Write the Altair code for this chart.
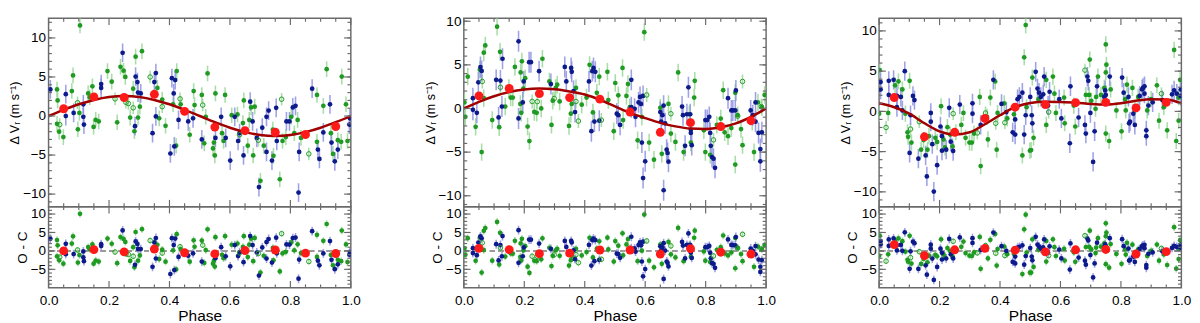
import altair as alt
import pandas as pd

# ---------------------------------------------------------------- data
x_tick_labels = [0.0, 0.2, 0.4, 0.6, 0.8, 1.0]
x_minor_ticks = [0.05, 0.1, 0.15, 0.25, 0.3, 0.35, 0.45, 0.5, 0.55, 0.65, 0.7, 0.75, 0.85, 0.9, 0.95]
rv_tick_labels = [-10, -5, 0, 5, 10]
oc_tick_labels = [-5, 0, 5, 10]
err_size = {"b": 1.2, "g": 1.0, "o": 0.8}

bin_phase = [0.05, 0.15, 0.25, 0.35, 0.45, 0.55, 0.65, 0.75, 0.85, 0.95]
curve_phase = [0.0, 0.05, 0.1, 0.15, 0.2, 0.25, 0.3, 0.35, 0.4, 0.45, 0.5,
               0.55, 0.6, 0.65, 0.7, 0.75, 0.8, 0.85, 0.9, 0.95, 1.0]

# ---- panel 1
p1_phase = [0.006, 0.028, 0.030, 0.028, 0.037, 0.035, 0.049, 0.057, 0.057, 0.081,
            0.083, 0.077, 0.096, 0.097, 0.102, 0.104, 0.115, 0.117, 0.115, 0.131,
            0.136, 0.145, 0.149, 0.156, 0.174, 0.174, 0.166, 0.195, 0.209, 0.220,
            0.227, 0.245, 0.238, 0.248, 0.254, 0.256, 0.264, 0.270, 0.280, 0.280,
            0.284, 0.286, 0.288, 0.288, 0.294, 0.309, 0.296, 0.296, 0.305, 0.302,
            0.336, 0.344, 0.350, 0.355, 0.355, 0.360, 0.366, 0.376, 0.376, 0.387,
            0.403, 0.408, 0.414, 0.419, 0.416, 0.422, 0.424, 0.435, 0.412, 0.430,
            0.437, 0.462, 0.467, 0.478, 0.480, 0.483, 0.510, 0.507, 0.507, 0.515,
            0.520, 0.526, 0.552, 0.552, 0.547, 0.550, 0.544, 0.574, 0.579, 0.586,
            0.584, 0.601, 0.606, 0.625, 0.616, 0.627, 0.632, 0.643, 0.632, 0.645,
            0.646, 0.659, 0.664, 0.670, 0.675, 0.677, 0.694, 0.696, 0.701, 0.689,
            0.682, 0.707, 0.712, 0.721, 0.721, 0.728, 0.739, 0.742, 0.771, 0.765,
            0.774, 0.744, 0.755, 0.787, 0.785, 0.797, 0.803, 0.808, 0.817, 0.813,
            0.824, 0.827, 0.829, 0.835, 0.861, 0.872, 0.888, 0.891, 0.888, 0.896,
            0.909, 0.909, 0.920, 0.931, 0.934, 0.947, 0.941, 0.936, 0.957, 0.957,
            0.970, 0.968, 0.984, 0.995, 0.989, 0.997, 0.571, 0.667, 0.753]
p1_rv = [3.4, 3.4, 2.0, -1.0, -1.1, -2.0, -2.7, 2.8, 0.0, 5.2,
         0.4, 3.2, 1.7, -1.7, 0.4, 11.6, -0.1, -1.1, 1.5, 2.9,
         2.4, 3.8, -1.4, -0.5, 4.1, 3.6, -0.7, 5.75, 4.4, 2.2,
         -0.8, 8.1, 6.3, 5.8, 5.0, 1.75, 1.6, -0.2, 3.5, 1.05,
         -1.95, -1.3, 5.05, 7.6, 4.35, 8.3, -0.2, 3.0, 2.9, 1.2,
         5.0, -2.2, 4.35, 5.5, -0.05, 3.6, -0.3, 1.2, 2.1, -1.25,
         -4.8, 4.85, 2.9, 4.6, -3.9, -3.8, 5.75, 2.2, 1.5, -0.5,
         1.5, -0.7, -2.4, -0.3, 3.2, 1.4, 1.4, 2.7, -3.0, -3.5,
         -0.1, 5.45, 2.9, -2.8, -3.4, -5.05, -4.15, -2.2, -3.2, -2.8,
         2.7, -5.7, 0.1, 0.2, -0.1, -3.2, -2.2, -0.9, -2.4, -5.05,
         2.0, -3.8, -0.5, 1.1, -0.7, -5.05, -3.1, -9.1, -8.3, -2.8,
         1.2, -1.5, -3.8, -4.6, -0.1, 0.7, -5.7, -1.75, 2.15, -8.1,
         -3.2, -5.1, -3.2, -0.7, -2.7, -0.7, -0.1, 1.1, 1.3, -2.2,
         -0.5, -9.8, -4.6, -2.8, -4.85, 3.5, 2.7, -4.3, -3.3, -5.5,
         1.3, -2.1, 6.0, 1.5, -2.2, -5.8, -4.85, -3.4, -4.3, -3.1,
         5.05, -3.3, 1.5, -1.1, -3.2, -0.3, -0.1, 1.83, 1.05]
p1_oc = [3.3, 2.96, 1.53, -1.47, -1.68, -2.55, -3.47, 1.92, -0.88, 3.96,
         -0.87, 2.0, 0.26, -3.15, -1.12, 10.06, -1.75, -2.78, -0.15, 1.04,
         0.48, 1.79, -3.45, -2.6, 1.84, 1.34, -2.9, 3.34, 1.94, -0.3,
         -3.33, 5.55, 3.75, 3.25, 2.45, -0.8, -0.95, -2.72, 1.0, -1.45,
         -4.43, -3.78, 2.58, 5.13, 1.9, 5.9, -2.65, 0.55, 0.49, -1.23,
         2.82, -4.31, 2.29, 3.49, -2.06, 1.64, -2.2, -0.58, 0.32, -2.91,
         -6.26, 3.46, 1.57, 3.34, -5.2, -5.02, 4.55, 1.14, 0.15, -1.63,
         0.5, -1.3, -2.93, -0.65, 2.88, 1.13, 1.56, 2.81, -2.89, -3.26,
         0.22, 5.87, 3.72, -1.98, -2.65, -4.26, -3.45, -1.06, -1.99, -1.48,
         3.99, -4.19, 1.67, 2.0, 1.58, -1.39, -0.33, 1.09, -0.53, -3.05,
         4.0, -1.67, 1.68, 3.33, 1.57, -2.77, -0.7, -6.69, -5.87, -0.43,
         3.52, 0.95, -1.33, -2.09, 2.41, 3.23, -3.15, 0.8, 4.68, -5.56,
         -0.68, -2.55, -0.65, 1.77, -0.23, 1.73, 2.31, 3.48, 3.63, 0.16,
         1.78, -7.54, -2.36, -0.6, -2.88, 5.36, 4.38, -2.65, -1.62, -3.92,
         2.73, -0.67, 7.3, 2.66, -1.08, -4.97, -3.91, -2.4, -3.62, -2.42,
         5.53, -2.79, 1.76, -1.02, -3.02, -0.25, 1.0, 4.03, 3.6]
p1_inst = ("b g g g o g g b b g  b g o g g g b b b g  g g g g b b g g g o  "
           "g b g g g o o g g o  g b b g b g g b b g  o b b b b g g o g g  "
           "b b b b b g g o g b  g b g b g g o g b g  g g g b g g g g g b  "
           "g b g g b b b g o b  g g g g b g o b g b  g b g b b b b g o g  "
           "g g b b g b g b b g  g b b g o b g b g b  g b g b g b g b b g  "
           "g g g b g b  b b b").split()
p1_bin_rv = [0.93, 2.45, 2.37, 2.78, 0.6, -1.42, -1.88, -2.08, -2.37, -1.34]
p1_bin_oc = [0.0, 0.35, -0.25, 0.5, -0.5, -0.8, 0.1, 0.25, -0.6, -0.7]
p1_curve = [0.0, 0.79, 1.5, 2.06, 2.43, 2.55, 2.43, 2.06, 1.5, 0.79, 0.0,
            -0.79, -1.5, -2.06, -2.43, -2.55, -2.43, -2.06, -1.5, -0.79, 0.0]

# ---- panel 2
p2_phase = [0.002, 0.005, 0.013, 0.030, 0.030, 0.043, 0.048, 0.039, 0.053, 0.055,
            0.059, 0.061, 0.059, 0.066, 0.071, 0.066, 0.094, 0.107, 0.110, 0.115,
            0.117, 0.121, 0.121, 0.120, 0.128, 0.126, 0.137, 0.149, 0.155, 0.162,
            0.169, 0.181, 0.181, 0.188, 0.192, 0.187, 0.190, 0.195, 0.198, 0.203,
            0.197, 0.211, 0.216, 0.222, 0.217, 0.226, 0.243, 0.233, 0.241, 0.249,
            0.260, 0.256, 0.283, 0.288, 0.290, 0.299, 0.294, 0.304, 0.309, 0.334,
            0.339, 0.317, 0.348, 0.355, 0.357, 0.354, 0.357, 0.368, 0.363, 0.371,
            0.371, 0.379, 0.390, 0.406, 0.416, 0.414, 0.425, 0.429, 0.435, 0.422,
            0.432, 0.427, 0.440, 0.448, 0.448, 0.455, 0.475, 0.478, 0.496, 0.501,
            0.506, 0.511, 0.511, 0.517, 0.525, 0.527, 0.538, 0.543, 0.554, 0.554,
            0.549, 0.565, 0.568, 0.578, 0.583, 0.586, 0.589, 0.589, 0.593, 0.605,
            0.575, 0.597, 0.600, 0.593, 0.613, 0.629, 0.650, 0.650, 0.653, 0.657,
            0.661, 0.661, 0.655, 0.666, 0.685, 0.671, 0.674, 0.677, 0.677, 0.685,
            0.700, 0.709, 0.722, 0.725, 0.727, 0.732, 0.738, 0.743, 0.746, 0.749,
            0.751, 0.751, 0.754, 0.762, 0.764, 0.751, 0.794, 0.799, 0.805, 0.799,
            0.812, 0.815, 0.815, 0.817, 0.821, 0.826, 0.826, 0.831, 0.837, 0.850,
            0.858, 0.863, 0.874, 0.874, 0.885, 0.885, 0.890, 0.898, 0.900, 0.898,
            0.898, 0.906, 0.906, 0.917, 0.922, 0.922, 0.949, 0.954, 0.956, 0.965,
            0.965, 0.975, 0.981, 0.981, 0.973, 0.986, 0.986, 0.995, 0.984, 0.960]
p2_rv = [0.70, -0.96, 3.65, 1.18, -0.15, -0.5, 3.0, -2.1, 4.45, 4.75,
         4.3, 3.1, -5.0, 6.4, 7.23, 1.18, -1.33, 3.28, 9.37, -1.03,
         -2.14, 3.2, 2.43, 6.5, 5.7, 0.22, 0.22, 2.36, 1.25, 1.25,
         4.76, 7.7, -1.14, 4.13, 5.4, 0.52, -0.5, 0.7, 3.1, 3.47,
         2.29, -2.07, 5.3, 5.3, -3.73, 0.81, 0.78, -0.4, -0.5, 4.28,
         5.7, 0.0, 3.1, 2.8, -1.88, 1.14, 0.89, 2.36, 2.73, 4.76,
         3.1, 0.81, -2.0, 4.65, 4.2, -0.6, 0.52, -0.41, 2.0, 2.36,
         0.8, -1.44, 0.44, 1.25, 5.0, 3.1, 4.28, 4.65, 4.2, -2.6,
         -1.5, -0.45, 1.8, 3.65, -1.4, -1.33, 4.2, 0.96, -2.6, 2.92,
         -0.59, 1.51, -0.77, -1.88, 4.65, -1.33, 1.44, 2.8, 3.28, 0.15,
         0.15, -0.04, -0.96, 0.7, 1.33, 0.52, -0.96, -3.9, 1.44, 1.55,
         -3.65, 8.75, -6.05, -7.97, -3.9, -5.87, -0.41, 0.08, -1.51, -0.77,
         0.33, -9.37, -5.2, -1.7, -0.6, -4.72, -5.1, -6.1, 0.52, -2.88,
         -3.83, 4.13, 0.22, -0.77, -5.0, -4.28, -0.66, 2.43, -0.66, -0.66,
         -2.44, -2.8, -4.2, 1.25, 3.17, -3.9, -2.5, -1.33, -1.33, -5.0,
         -0.96, -5.3, -2.8, -4.28, -5.57, -5.75, -3.6, -6.8, -1.88, -1.15,
         2.1, -2.73, -3.17, 1.18, -2.25, -0.22, -0.22, -0.22, 2.07, 1.8,
         -6.42, -0.77, -0.88, -2.36, 3.1, -4.2, -0.22, -1.51, -0.77, 0.7,
         -1.51, -2.8, -4.65, -6.05, 0.7, 0.15, -2.73, 1.55, 0.22, -5.0]
p2_oc = [0.67, -1.03, 3.45, 0.73, -0.6, -1.15, 2.28, -2.68, 3.66, 3.93,
         3.43, 2.2, -5.87, 5.44, 6.21, 0.22, -2.66, 1.81, 7.87, -2.58,
         -3.71, 1.59, 0.82, 4.9, 4.03, -1.45, -1.54, 0.49, -0.66, -0.71,
         2.75, 5.62, -3.22, 2.02, 3.27, -1.59, -2.62, -1.45, 0.93, 1.28,
         0.12, -4.28, 3.07, 3.05, -5.96, -1.45, -1.5, -2.67, -2.78, 1.99,
         3.42, -2.29, 0.86, 0.57, -4.1, -1.06, -1.32, 0.18, 0.57, 2.72,
         1.09, -1.32, -3.96, 2.73, 2.3, -2.52, -1.38, -2.23, 0.14, 0.56,
         -1.0, -3.19, -1.23, -0.3, 3.55, 1.63, 2.93, 3.34, 2.95, -3.98,
         -2.78, -1.78, 0.62, 2.6, -2.45, -2.28, 3.6, 0.41, -2.9, 2.68,
         -0.75, 1.43, -0.85, -1.88, 4.77, -1.18, 1.77, 3.2, 3.84, 0.71,
         0.64, 0.68, -0.2, 1.6, 2.29, 1.52, 0.07, -2.87, 2.51, 2.7,
         -2.79, 9.85, -4.93, -6.9, -2.66, -4.45, 1.24, 1.73, 0.17, 0.95,
         2.09, -7.61, -3.5, 0.1, 1.35, -2.87, -3.22, -4.2, 2.42, -0.93,
         -1.78, 6.23, 2.42, 1.45, -2.77, -2.03, 1.62, 4.73, 1.64, 1.64,
         -0.14, -0.5, -1.9, 3.57, 5.49, -1.6, -0.15, 1.02, 1.01, -2.65,
         1.34, -3.01, -0.51, -2.0, -3.31, -3.51, -1.36, -4.6, 0.29, 1.0,
         4.18, -0.69, -1.23, 3.12, -0.41, 1.62, 1.57, 1.5, 3.77, 3.52,
         -4.7, 0.85, 0.74, -0.86, 4.5, -2.8, 0.65, -0.71, -0.01, 1.3,
         -0.91, -2.35, -4.3, -5.7, 1.18, 0.4, -2.48, 1.63, 0.5, -4.3]
p2_inst = ("g g g b b b b g g b  b o g g g g g b g b  g b o g b b g g g g  "
           "g b b g g g g b b g  g g b b g o o g g b  g g g b g o g g g b  "
           "b g g b b g g b b g  o o g g g b b b b b  b g g g b o g g g g  "
           "b g b b g g g g b b  g b b b b b g b b o  g g b b g g b g b b  "
           "b b g b o b b b g g  g g b b g b b b g b  b b b g g g g b b g  "
           "b g b b b b o b g g  g g g b g b b b b g  g g o g o g b g b b  "
           "b b b b g g b g o g").split()
p2_bin_rv = [1.44, 2.29, 1.7, 1.25, 1.07, -0.4, -2.73, -1.62, -2.07, -1.4]
p2_bin_oc = [0.7, 0.35, -0.75, -0.6, 0.25, 0.25, -0.85, 0.6, -0.35, -0.85]
p2_curve = [0.0, 0.75, 1.4, 1.88, 2.18, 2.29, 2.2, 1.95, 1.6, 1.0, 0.25,
            -0.5, -1.1, -1.65, -2.05, -2.3, -2.35, -2.15, -1.7, -0.95, 0.0]

# ---- panel 3
p3_phase = [0.002, 0.005, 0.005, 0.000, 0.023, 0.030, 0.032, 0.032, 0.048, 0.053,
            0.059, 0.059, 0.064, 0.072, 0.077, 0.077, 0.085, 0.087, 0.094, 0.096,
            0.104, 0.101, 0.104, 0.112, 0.117, 0.107, 0.101, 0.133, 0.139, 0.130,
            0.147, 0.154, 0.158, 0.160, 0.165, 0.171, 0.176, 0.171, 0.186, 0.192,
            0.192, 0.181, 0.203, 0.208, 0.205, 0.213, 0.208, 0.218, 0.222, 0.226,
            0.232, 0.235, 0.237, 0.243, 0.245, 0.245, 0.254, 0.267, 0.272, 0.279,
            0.286, 0.299, 0.307, 0.309, 0.309, 0.314, 0.325, 0.333, 0.336, 0.336,
            0.352, 0.357, 0.360, 0.368, 0.378, 0.384, 0.386, 0.389, 0.392, 0.405,
            0.414, 0.416, 0.421, 0.424, 0.442, 0.450, 0.450, 0.446, 0.458, 0.464,
            0.474, 0.474, 0.480, 0.485, 0.480, 0.485, 0.488, 0.499,
            0.500, 0.505, 0.507, 0.507, 0.511, 0.503, 0.518, 0.524, 0.529, 0.527,
            0.535, 0.543, 0.546, 0.553, 0.553, 0.559, 0.561, 0.564, 0.575, 0.580,
            0.585, 0.596, 0.603, 0.612, 0.614, 0.633, 0.631, 0.644, 0.649, 0.660,
            0.681, 0.684, 0.681, 0.689, 0.684, 0.695, 0.697, 0.692, 0.699, 0.708,
            0.713, 0.702, 0.716, 0.718, 0.721, 0.724, 0.734, 0.745, 0.745, 0.748,
            0.750, 0.752, 0.750, 0.750, 0.750, 0.761, 0.763, 0.766, 0.785, 0.804,
            0.802, 0.809, 0.814, 0.816, 0.820, 0.825, 0.838, 0.827, 0.830, 0.841,
            0.846, 0.846, 0.857, 0.862, 0.870, 0.873, 0.878, 0.878, 0.887, 0.884,
            0.884, 0.891, 0.900, 0.905, 0.919, 0.934, 0.926, 0.937, 0.942, 0.953,
            0.969, 0.976, 0.976, 0.985, 0.983, 0.991, 0.996, 0.998, 0.991, 0.997]
p3_rv = [5.12, 3.64, 2.72, -0.28, -2.0, -0.2, 3.8, 2.04, 3.92, 3.24,
         1.92, 0.52, 3.72, 1.8, 0.12, 2.72, 5.0, -0.28, -2.6, -3.16,
         -2.2, 3.8, -0.48, 1.92, 1.4, -3.88, -5.16, -1.28, -4.76, -5.88,
         -3.56, -5.48, -8.08, -4.76, -3.08, -0.2, -4.08, -1.28, -3.28, -6.68,
         -3.8, -9.96, -1.88, -3.08, 0.64, -3.48, -4.88, -4.48, -4.76, -1.96,
         0.44, -2.88, -3.76, -4.36, -0.28, -4.92, -2.6, 0.84, -1.68, -0.2,
         -3.28, -3.88, -3.88, 1.0, -0.28, -2.76, -2.68, 1.8, -6.8, -1.68,
         -0.2, -0.68, -3.48, 1.72, 3.92, 3.72, -1.48, -4.76, -0.2, 0.92,
         1.0, -1.4, -0.08, -0.88, -2.6, -1.0, -2.88, -0.36, 1.52, 1.8,
         2.32, -5.48, 6.72, 10.72, -2.88, -0.48, 0.52, -4.88,
         1.8, -0.48, 4.2, -1.48, -3.28, -4.8, 4.92, 2.84, 2.32, 1.52,
         1.8, 2.12, 4.32, 3.92, -1.68, 0.72, -0.08, 2.44, 4.32, 2.2,
         -0.2, 1.52, -0.88, 1.72, -1.48, 3.12, -3.96, 0.72, -1.88, -0.76,
         -1.68, -2.76, 5.12, 4.32, 2.04, 2.04, 6.44, 3.8, -0.2, -6.28,
         -2.48, 1.32, 0.32, 1.8, 3.12, 4.32, 2.04, 1.8, 2.92, 2.6,
         4.84, 5.8, 8.32, 2.04, -2.76, -3.68, 4.32, 2.72, 0.12, 4.2,
         -2.48, 2.32, 1.52, 0.12, 3.32, 1.8, 2.92, -1.48, -1.28, -0.28,
         -1.68, 0.12, 1.8, 1.92, 2.72, 2.92, 3.12, 2.2, 0.12, -2.36,
         -3.08, 0.72, 1.52, 1.12, 3.24, 2.2, -1.16, 1.4, 0.52, -2.36,
         2.12, 2.6, 7.64, 2.2, -3.68, -1.16, 3.92, 2.72, 1.72, 1.92]
p3_oc = [4.14, 2.69, 1.77, -1.28, -2.78, -0.91, 3.11, 1.35, 3.37, 2.77,
         1.54, 0.14, 3.42, 1.63, 0.03, 2.63, 5.03, -0.21, -2.42, -2.94,
         -1.82, 4.1, -0.1, 2.49, 2.09, -3.43, -4.86, -0.21, -3.54, -4.88,
         -2.15, -3.92, -6.44, -3.08, -1.3, 1.7, -2.08, 0.62, -1.08, -4.36,
         -1.48, -7.86, 0.62, -0.53, 3.16, -0.88, -2.33, -1.82, -2.06, 0.78,
         3.24, -0.05, -0.91, -1.49, 2.6, -2.05, 0.28, 3.66, 1.1, 2.53,
         -0.6, -1.28, -1.38, 3.45, 2.17, -0.41, -0.53, 3.8, -4.85, 0.27,
         1.45, 0.87, -2.03, 3.02, 4.97, 4.62, -0.63, -3.96, 0.5, 1.29,
         1.18, -1.26, -0.02, -0.88, -2.98, -1.52, -3.4, -0.81, 0.9, 1.1,
         1.52, -6.28, 5.87, 9.82, -3.73, -1.38, -0.43, -5.91,
         0.76, -1.54, 3.14, -2.54, -4.36, -5.86, 3.82, 1.72, 1.18, 0.38,
         0.64, 0.94, 3.12, 2.72, -2.88, -0.48, -1.28, 1.24, 3.13, 1.02,
         -1.38, 0.36, -2.04, 0.58, -2.62, 2.02, -5.06, -0.37, -2.96, -1.81,
         -2.66, -3.74, 4.14, 3.36, 1.06, 1.1, 5.5, 2.84, -1.12, -7.19,
         -3.38, 0.4, -0.57, 0.91, 2.24, 3.44, 1.18, 0.96, 2.08, 1.76,
         4.0, 4.96, 7.48, 1.2, -3.6, -4.54, 3.46, 1.85, -0.83, 3.18,
         -3.5, 1.27, 0.44, -0.98, 2.2, 0.65, 1.68, -2.63, -2.46, -1.54,
         -2.98, -1.18, 0.44, 0.54, 1.3, 1.5, 1.67, 0.75, -1.36, -3.84,
         -4.56, -0.78, 0.0, -0.4, 1.73, 0.7, -2.66, -0.1, -0.97, -3.82,
         0.82, 1.38, 6.42, 1.08, -4.83, -2.22, 2.9, 1.7, 0.66, 0.9]
p3_inst = ("g b b g o g b b b g  b b g b b g b g g g  o g b b b g b o g b  "
           "g b b g g b b b g b  g b b b g g b g b g  b g b g o b g b g g  "
           "g g g b b g o g g b  o g g g b g o g g b  g o b g b b b g b b  "
           "b g g g b b g g  "
           "b b g b g g b b b g  b b b g g b o b g g  g b b g g b b g g b  "
           "b b o b g g g b b b  b g g g b g g b g b  g g g b g g b g g b  "
           "g b g g g b g b b b  b g g b b b b b g b  b b g b g o g b g g  "
           "b b g b g g g b g b").split()
p3_bin_rv = [1.72, -3.16, -2.6, -0.88, 0.52, 0.84, 1.08, 1.12, 0.44, 1.12]
p3_bin_oc = [1.7, -1.3, 0.3, 0.7, 0.2, -0.25, 0.3, 0.4, -0.85, -0.2]
p3_curve = [1.0, 0.52, -0.28, -1.48, -2.48, -2.88, -2.6, -1.6, -0.48, 0.52, 1.04,
            1.2, 1.16, 1.08, 0.92, 0.84, 1.0, 1.32, 1.52, 1.48, 1.0]

# ---------------------------------------------------------------- style
FONT = "Liberation Sans"
FRAME = "#6a6a6a"
BLUE = "#0c1a8c"
GREEN = "#1f9a22"
BLUE_ERR = "#8d91e2"
GREEN_ERR = "#98d898"
RED = "#ff1a1a"
CURVE = "#a00000"

W, HT, HB = 313, 195, 84
TOP_DOMAINS = [[-11.61, 12.51], [-11.25, 10.33], [-11.84, 11.56]]
TOP_MINOR = [list(range(-11, 13)), list(range(-11, 11)), list(range(-11, 12))]
OC_DOMAIN = [-10, 12]
OC_MINOR = list(range(-9, 12))
x_scale = alt.Scale(domain=[0, 1], nice=False, zero=False)


def points_df(phase, rv, oc, inst):
    df = pd.DataFrame({"phase": phase, "rv": rv, "oc": oc, "inst": inst})
    e = df["inst"].map(err_size)
    df["rv_lo"] = df["rv"] - e
    df["rv_hi"] = df["rv"] + e
    df["oc_lo"] = df["oc"] - e
    df["oc_hi"] = df["oc"] + e
    return df


def build_panel(df, field, bins_df, curve_df, yscale, yaxis, xaxis, y_major, y_minor, height, zero):
    """All layers of one panel share the same axis definitions."""
    def X(f):
        return alt.X(f, scale=x_scale, axis=xaxis)

    def Y(f):
        return alt.Y(f, scale=yscale, axis=yaxis)

    layers = []
    if zero:
        layers.append(
            alt.Chart(bins_df).mark_rule(color="#9a9a9a", strokeDash=[5, 4], strokeWidth=1.3)
            .encode(y=alt.Y(datum=0, scale=yscale, axis=yaxis), x=alt.value(0), x2=alt.value(W))
        )
    for code, col in (("g", GREEN_ERR), ("o", GREEN_ERR), ("b", BLUE_ERR)):
        layers.append(
            alt.Chart(df).transform_filter(alt.datum.inst == code)
            .mark_rule(color=col, strokeWidth=1.6, opacity=0.85, clip=True)
            .encode(x=X("phase:Q"), y=Y(field + "_lo:Q"), y2=field + "_hi:Q")
        )
    layers.append(alt.Chart(df).transform_filter(alt.datum.inst == "g")
                  .mark_circle(color=GREEN, size=24, opacity=1, clip=True)
                  .encode(x=X("phase:Q"), y=Y(field + ":Q")))
    layers.append(alt.Chart(df).transform_filter(alt.datum.inst == "b")
                  .mark_circle(color=BLUE, size=24, opacity=1, clip=True)
                  .encode(x=X("phase:Q"), y=Y(field + ":Q")))
    layers.append(alt.Chart(df).transform_filter(alt.datum.inst == "o")
                  .mark_point(shape="circle", filled=False, color=GREEN, size=22, strokeWidth=1,
                              opacity=1, clip=True)
                  .encode(x=X("phase:Q"), y=Y(field + ":Q")))
    if curve_df is not None:
        layers.append(alt.Chart(curve_df).mark_line(color=CURVE, strokeWidth=2.6, interpolate="monotone",
                                                    clip=True)
                      .encode(x=X("phase:Q"), y=Y("model:Q")))
    layers.append(alt.Chart(bins_df).mark_circle(color=RED, size=85, opacity=1, clip=True)
                  .encode(x=X("phase:Q"), y=Y(field + ":Q")))

    # inward ticks on all four sides
    for vals, length in ((y_major, 7), (y_minor, 3.5)):
        base = alt.Chart(pd.DataFrame({"v": vals})).mark_rule(color=FRAME, strokeWidth=1.2)
        layers.append(base.encode(y=Y("v:Q"), x=alt.value(0), x2=alt.value(length)))
        layers.append(base.encode(y=Y("v:Q"), x=alt.value(W - length), x2=alt.value(W)))
    for vals, length in ((x_tick_labels, 7), (x_minor_ticks, 3.5)):
        base = alt.Chart(pd.DataFrame({"v": vals})).mark_rule(color=FRAME, strokeWidth=1.2)
        layers.append(base.encode(x=X("v:Q"), y=alt.value(0), y2=alt.value(length)))
        layers.append(base.encode(x=X("v:Q"), y=alt.value(height - length), y2=alt.value(height)))
    return alt.layer(*layers).properties(width=W, height=height)


def make_column(phase, rv, oc, inst, bin_rv, bin_oc, curve, dom, minor):
    df = points_df(phase, rv, oc, inst)
    ys_top = alt.Scale(domain=dom, nice=False, zero=False)
    ys_bot = alt.Scale(domain=OC_DOMAIN, nice=False, zero=False)

    top_axis = alt.Axis(values=rv_tick_labels, title="Δ Vᵣ (m s⁻¹)", labelPadding=3,
                        titlePadding=1, titleFontSize=13, labelFontSize=14)
    bot_axis = alt.Axis(values=oc_tick_labels, title="O - C", labelPadding=3,
                        titlePadding=1, titleFontSize=14, labelFontSize=14)
    x_axis = alt.Axis(values=x_tick_labels, format=".1f", title="Phase", labelFlush=False,
                      labelPadding=6, titlePadding=1, titleFontSize=16, labelFontSize=14)

    curve_df = pd.DataFrame({"phase": curve_phase, "model": curve})
    bins_df = pd.DataFrame({"phase": bin_phase, "rv": bin_rv, "oc": bin_oc})

    top = build_panel(df, "rv", bins_df, curve_df, ys_top, top_axis, None,
                      rv_tick_labels, minor, HT, zero=False)
    bottom = build_panel(df, "oc", bins_df, None, ys_bot, bot_axis, x_axis,
                         oc_tick_labels, OC_MINOR, HB, zero=True)
    return alt.vconcat(top, bottom, spacing=0, bounds="flush")


cols = [
    make_column(p1_phase, p1_rv, p1_oc, p1_inst, p1_bin_rv, p1_bin_oc, p1_curve, TOP_DOMAINS[0], TOP_MINOR[0]),
    make_column(p2_phase, p2_rv, p2_oc, p2_inst, p2_bin_rv, p2_bin_oc, p2_curve, TOP_DOMAINS[1], TOP_MINOR[1]),
    make_column(p3_phase, p3_rv, p3_oc, p3_inst, p3_bin_rv, p3_bin_oc, p3_curve, TOP_DOMAINS[2], TOP_MINOR[2]),
]

chart = (
    alt.hconcat(*cols, spacing=64)
    .properties(padding={"left": 0, "top": 0, "right": 0, "bottom": 0})
    .configure_axis(labelFont=FONT, titleFont=FONT, labelColor="black", titleColor="black",
                    grid=False, ticks=False, domain=False, titleFontWeight="normal")
    .configure_view(stroke=FRAME, strokeWidth=1.5)
)

chart.save("out.html", embed_options={"renderer": "svg", "actions": False})
